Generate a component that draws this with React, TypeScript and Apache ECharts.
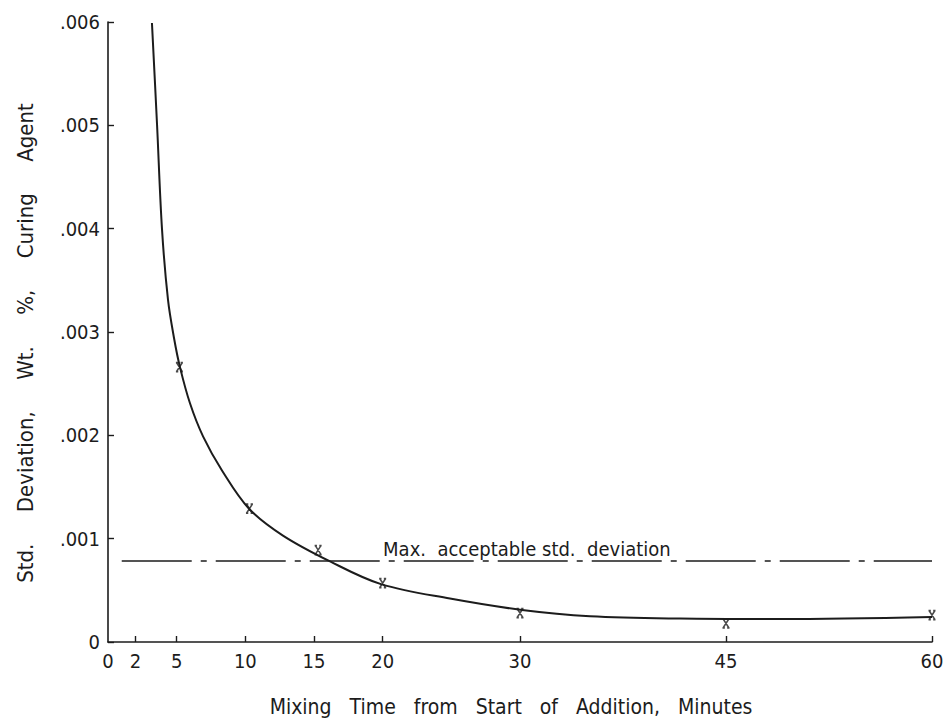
import React, { useEffect, useRef } from "react";
import * as echarts from "echarts";

// Smooth fitted curve (minutes, std. deviation)
const curveMinutes = [3.2, 3.57, 3.93, 4.37, 4.81, 5.24, 5.97, 6.92, 8.3, 10.27, 12.74, 16.17, 19.88, 24.9, 30.15, 35.1, 41.65, 48.9, 60];
const curveValues = [0.00599, 0.00501, 0.004, 0.00331, 0.00294, 0.00266, 0.00231, 0.00199, 0.00166, 0.00129, 0.00103, 0.00078, 0.00056, 0.00042, 0.00031, 0.00025, 0.000227, 0.000222, 0.000242];

// Measured points (x marks)
const pointMinutes = [5.2, 10.3, 15.3, 20, 30, 45, 60];
const pointValues = [0.00266, 0.00129, 0.00089, 0.00057, 0.00028, 0.00018, 0.00026];

// Max acceptable std. deviation line
const maxAcceptable = 0.00079;
const maxLineStart = 1.0;
const maxLineEnd = 60;
const maxLabel = "Max.  acceptable std.  deviation";

const xTickValues = [0, 2, 5, 10, 15, 20, 30, 45, 60];
const yTickLabels = ["0", ".001", ".002", ".003", ".004", ".005", ".006"];

const xTitle = "Mixing   Time   from   Start   of   Addition,   Minutes";
const yTitle = "Std.     Deviation,     Wt.     %,     Curing     Agent";

const FONT = "'Liberation Sans Narrow', 'DejaVu Sans Condensed', 'Noto Sans', sans-serif";
const INK = "#1c1c1c";

const nb = (s: string) => s.replace(/ /g, "\u00a0");

export default function App() {
  const ref = useRef<HTMLDivElement>(null);
  useEffect(() => {
    if (!ref.current) return;
    const chart = echarts.init(ref.current, null, { renderer: "svg" });
    chart.setOption({
      animation: false,
      backgroundColor: "#ffffff",
      grid: { left: 108, right: 16, top: 22, bottom: 82, containLabel: false },
      graphic: [
        {
          type: "text",
          x: 511,
          y: 707,
          style: { text: nb(xTitle), align: "center", verticalAlign: "middle", fontFamily: FONT, fontSize: 21, fill: INK },
        },
        {
          type: "text",
          x: 25,
          y: 343,
          rotation: Math.PI / 2,
          style: { text: nb(yTitle), align: "center", verticalAlign: "middle", fontFamily: FONT, fontSize: 22, fill: INK },
        },
      ],
      xAxis: {
        type: "value",
        min: 0,
        max: 60,
        axisLine: { show: true, onZero: false, lineStyle: { color: INK, width: 1.6 } },
        axisTick: { show: true, inside: true, length: 6, customValues: xTickValues.slice(1), lineStyle: { color: INK, width: 1.4 } },
        axisLabel: { customValues: xTickValues, fontFamily: FONT, fontSize: 20, color: INK, margin: 9 },
        splitLine: { show: false },
      },
      yAxis: {
        type: "value",
        min: 0,
        max: 0.006,
        interval: 0.001,
        axisLine: { show: true, lineStyle: { color: INK, width: 1.6 } },
        axisTick: { show: true, inside: true, length: 6, lineStyle: { color: INK, width: 1.4 } },
        axisLabel: {
          fontFamily: FONT,
          fontSize: 20,
          color: INK,
          margin: 8,
          formatter: (v: number) => yTickLabels[Math.round(v / 0.001)] ?? "",
        },
        splitLine: { show: false },
      },
      series: [
        {
          type: "line",
          data: curveMinutes.map((m, i) => [m, curveValues[i]]),
          smooth: 0.35,
          showSymbol: false,
          lineStyle: { color: INK, width: 2 },
          markLine: {
            silent: true,
            symbol: "none",
            lineStyle: { color: INK, width: 1.6, type: [70, 9, 6, 9] },
            label: {
              show: true,
              position: "middle",
              formatter: nb(maxLabel),
              fontFamily: FONT,
              fontSize: 20,
              color: INK,
              distance: 1,
            },
            data: [[{ coord: [maxLineStart, maxAcceptable] }, { coord: [maxLineEnd, maxAcceptable] }]],
          },
        },
        {
          type: "scatter",
          data: pointMinutes.map((m, i) => [m, pointValues[i]]),
          clip: false,
          symbol: "path://M0,0L10,12M10,0L0,12M-1,0L3,0M7,0L11,0M-1,12L3,12M7,12L11,12",
          symbolSize: [7, 9],
          itemStyle: { color: "none", borderColor: INK, borderWidth: 1.6 },
        },
      ],
    });
    return () => chart.dispose();
  }, []);
  return <div ref={ref} style={{ position: "fixed", left: 0, top: 0, width: 948, height: 724 }} />;
}
